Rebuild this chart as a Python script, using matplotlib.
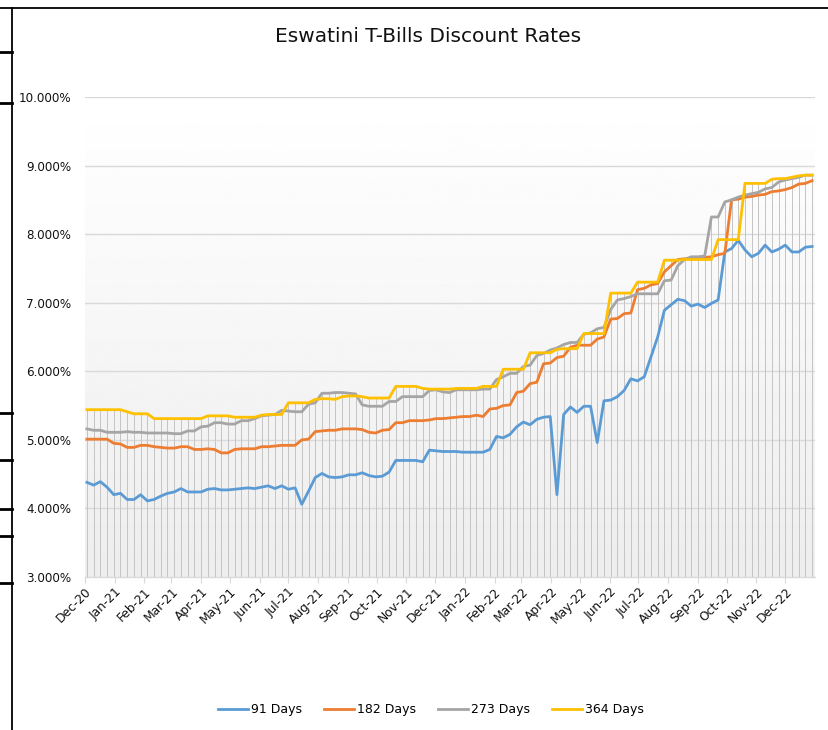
import numpy as np
import pandas as pd
import matplotlib
matplotlib.use("Agg")
import matplotlib.pyplot as plt
import matplotlib.dates as mdates
from matplotlib.lines import Line2D
from matplotlib.ticker import FuncFormatter

# weekly auction dates
dates = pd.date_range("2020-12-03", periods=109, freq="7D")

d91 = [4.38, 4.34, 4.39, 4.31, 4.20, 4.22, 4.13, 4.13, 4.20, 4.11,
       4.13, 4.18, 4.22, 4.24, 4.29, 4.24, 4.24, 4.24, 4.28, 4.29,
       4.27, 4.27, 4.28, 4.29, 4.30, 4.29, 4.31, 4.33, 4.29, 4.33,
       4.28, 4.30, 4.06, 4.25, 4.45, 4.51, 4.46, 4.45, 4.46, 4.49,
       4.49, 4.52, 4.48, 4.46, 4.47, 4.53, 4.70, 4.70, 4.70, 4.70,
       4.68, 4.85, 4.84, 4.83, 4.83, 4.83, 4.82, 4.82, 4.82, 4.82,
       4.86, 5.05, 5.03, 5.08, 5.19, 5.26, 5.22, 5.30, 5.33, 5.34,
       4.20, 5.37, 5.48, 5.40, 5.49, 5.49, 4.96, 5.57, 5.58, 5.63,
       5.72, 5.89, 5.86, 5.92, 6.21, 6.50, 6.89, 6.97, 7.05, 7.03,
       6.95, 6.98, 6.93, 6.99, 7.04, 7.74, 7.79, 7.91, 7.77, 7.67,
       7.72, 7.84, 7.74, 7.78, 7.84, 7.74, 7.74, 7.81, 7.82]

d182 = [5.01, 5.01, 5.01, 5.01, 4.95, 4.94, 4.89, 4.89, 4.92, 4.92,
        4.90, 4.89, 4.88, 4.88, 4.90, 4.90, 4.86, 4.86, 4.87, 4.86,
        4.81, 4.81, 4.86, 4.87, 4.87, 4.87, 4.90, 4.90, 4.91, 4.92,
        4.92, 4.92, 5.00, 5.01, 5.12, 5.13, 5.14, 5.14, 5.16, 5.16,
        5.16, 5.15, 5.11, 5.10, 5.14, 5.15, 5.25, 5.25, 5.28, 5.28,
        5.28, 5.29, 5.31, 5.31, 5.32, 5.33, 5.34, 5.34, 5.36, 5.34,
        5.45, 5.46, 5.50, 5.51, 5.69, 5.71, 5.82, 5.84, 6.11, 6.12,
        6.20, 6.22, 6.35, 6.38, 6.38, 6.38, 6.47, 6.50, 6.76, 6.77,
        6.84, 6.85, 7.19, 7.21, 7.26, 7.28, 7.45, 7.54, 7.63, 7.64,
        7.65, 7.66, 7.66, 7.67, 7.70, 7.72, 8.50, 8.51, 8.54, 8.55,
        8.57, 8.58, 8.62, 8.63, 8.65, 8.68, 8.73, 8.74, 8.78]

d273 = [5.16, 5.14, 5.14, 5.11, 5.11, 5.11, 5.12, 5.11, 5.11, 5.10,
        5.10, 5.10, 5.10, 5.09, 5.09, 5.13, 5.13, 5.19, 5.20, 5.25,
        5.25, 5.23, 5.23, 5.28, 5.28, 5.31, 5.35, 5.36, 5.37, 5.43,
        5.42, 5.41, 5.41, 5.52, 5.54, 5.68, 5.68, 5.69, 5.69, 5.68,
        5.67, 5.51, 5.49, 5.49, 5.49, 5.56, 5.56, 5.63, 5.63, 5.63,
        5.63, 5.72, 5.73, 5.70, 5.69, 5.73, 5.73, 5.73, 5.73, 5.74,
        5.74, 5.88, 5.92, 5.97, 5.97, 6.07, 6.09, 6.23, 6.26, 6.31,
        6.34, 6.39, 6.42, 6.42, 6.54, 6.56, 6.62, 6.64, 6.90, 7.04,
        7.06, 7.09, 7.13, 7.13, 7.13, 7.13, 7.32, 7.33, 7.54, 7.63,
        7.67, 7.67, 7.68, 8.25, 8.25, 8.47, 8.50, 8.54, 8.57, 8.59,
        8.61, 8.66, 8.68, 8.76, 8.79, 8.81, 8.83, 8.86, 8.86]

d364 = [5.44, 5.44, 5.44, 5.44, 5.44, 5.44, 5.41, 5.38, 5.38, 5.38,
        5.31, 5.31, 5.31, 5.31, 5.31, 5.31, 5.31, 5.31, 5.35, 5.35,
        5.35, 5.35, 5.33, 5.33, 5.33, 5.33, 5.36, 5.37, 5.37, 5.37,
        5.54, 5.54, 5.54, 5.54, 5.59, 5.60, 5.60, 5.59, 5.63, 5.64,
        5.64, 5.63, 5.61, 5.61, 5.61, 5.61, 5.78, 5.78, 5.78, 5.78,
        5.75, 5.74, 5.74, 5.74, 5.74, 5.75, 5.75, 5.75, 5.75, 5.78,
        5.78, 5.78, 6.03, 6.03, 6.03, 6.03, 6.27, 6.27, 6.27, 6.27,
        6.32, 6.33, 6.33, 6.33, 6.55, 6.55, 6.55, 6.55, 7.14, 7.14,
        7.14, 7.14, 7.30, 7.30, 7.30, 7.30, 7.62, 7.62, 7.62, 7.63,
        7.63, 7.63, 7.63, 7.63, 7.92, 7.92, 7.92, 7.92, 8.74, 8.74,
        8.74, 8.74, 8.80, 8.81, 8.81, 8.83, 8.85, 8.86, 8.86]

series = [("91 Days", d91, "#5b9bd5"),
          ("182 Days", d182, "#ed7d31"),
          ("273 Days", d273, "#a5a5a5"),
          ("364 Days", d364, "#ffc000")]

fig = plt.figure(figsize=(8.29, 7.30), dpi=100)
ax = fig.add_axes([85/829, 1-577/730, 730/829, 480/730])

xmin = mdates.date2num(pd.Timestamp("2020-12-01"))
xmax = mdates.date2num(pd.Timestamp("2023-01-01"))
ax.set_xlim(xmin, xmax)
ax.set_ylim(3, 10)

# gradient plot area
grad = np.linspace(1.0, 0.93, 256).reshape(-1, 1)
ax.imshow(grad, cmap="gray", vmin=0, vmax=1, aspect="auto",
          extent=[xmin, xmax, 3, 10], zorder=0)

for yv in range(4, 11):
    ax.axhline(yv, color="#d9d9d9", lw=1, zorder=1)

# drop lines
top = np.max(np.array([d91, d182, d273, d364]), axis=0)
ax.vlines(dates, 3, top, color="#c4c4c4", lw=0.7, zorder=1)

for name, vals, col in series:
    ax.plot(dates, vals, color=col, lw=2, label=name, zorder=3)

for s in ["top", "right", "left"]:
    ax.spines[s].set_visible(False)
ax.spines["bottom"].set_color("#d9d9d9")
ax.spines["bottom"].set_linewidth(1)

ax.set_yticks(range(3, 11))
ax.yaxis.set_major_formatter(FuncFormatter(lambda v, p: f"{v:.3f}%"))
ax.tick_params(axis="y", length=0, pad=10, labelsize=8.6, labelcolor="#111111")

months = pd.date_range("2020-12-01", "2022-12-01", freq="MS")
ax.set_xticks(months)
ax.set_xticklabels([m.strftime("%b-%y") for m in months], rotation=45,
                   ha="right", rotation_mode="anchor")
ax.tick_params(axis="x", length=4, color="#d9d9d9", pad=2, labelsize=8.8,
               labelcolor="#111111")

fig.text(428/829, 1-37/730, "Eswatini T-Bills Discount Rates",
         ha="center", va="center", fontsize=14.5, color="#111111")

fig.legend(loc="center", bbox_to_anchor=(431/829, 1-710/730), ncol=4,
           frameon=False, fontsize=9, handlelength=2.4, handletextpad=0.2,
           columnspacing=1.8)

# border lines from the screenshot
k = dict(color="black", transform=fig.transFigure)
fig.add_artist(Line2D([0, 1], [1-8/730, 1-8/730], lw=1.3, **k))
fig.add_artist(Line2D([12/829, 12/829], [0, 1-8/730], lw=1.3, **k))
for yy in [52, 103, 413, 460, 509, 536, 583]:
    fig.add_artist(Line2D([0, 12/829], [1-yy/730, 1-yy/730], lw=2, **k))

fig.savefig("out.png", dpi=100)
